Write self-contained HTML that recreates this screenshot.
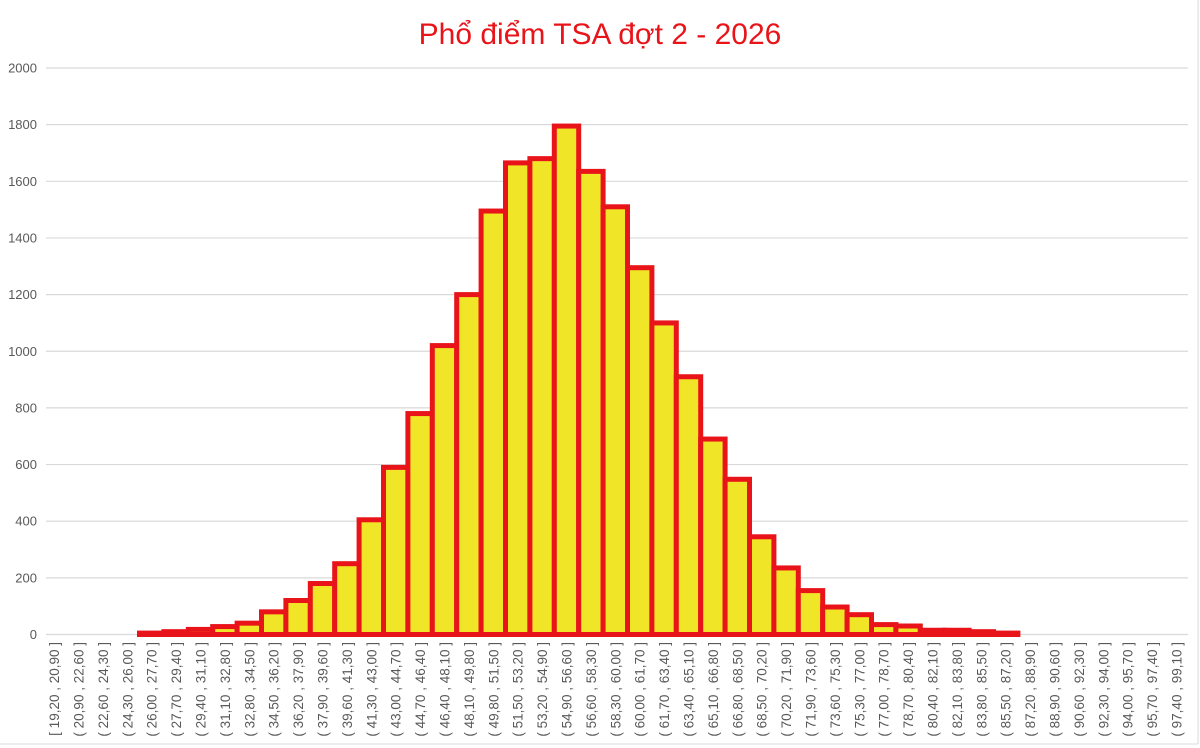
<!DOCTYPE html>
<html><head><meta charset="utf-8"><style>
html,body{margin:0;padding:0;background:#fff}
svg{display:block}
</style></head><body>
<svg width="1200" height="748" xmlns="http://www.w3.org/2000/svg" font-family="Liberation Sans, DejaVu Sans, sans-serif">
<rect x="0" y="0" width="1200" height="748" fill="#fff"/>
<line x1="0" y1="744" x2="1198" y2="744" stroke="#d9d9d9"/>
<line x1="1198" y1="0" x2="1198" y2="744" stroke="#d9d9d9"/>
<text x="600" y="44" text-anchor="middle" font-size="30" fill="#e8141a">Phổ điểm TSA đợt 2 - 2026</text>
<g id="grid" stroke="#d9d9d9" stroke-width="1.2"></g>
<g id="ylab" font-size="13" fill="#595959" text-anchor="end"></g>
<g id="bars" fill="#f0e526" stroke="#e8141a" stroke-width="5"></g>
<g id="xlab" font-size="13.5" fill="#595959"></g>
<script>
var NS="http://www.w3.org/2000/svg";
function el(t,a,p,txt){var e=document.createElementNS(NS,t);for(var k in a)e.setAttribute(k,a[k]);if(txt!=null)e.textContent=txt;document.getElementById(p).appendChild(e);return e;}
var y0=634.5,k=0.28325;
for(var v=0;v<=2000;v+=200){var y=y0-v*k;el('line',{x1:46,y1:y,x2:1188,y2:y},'grid');el('text',{x:37,y:y+4.5},'ylab',String(v));}
var vals={4:5,5:10,6:18,7:28,8:40,9:80,10:120,11:180,12:250,13:405,14:590,15:780,16:1020,17:1200,18:1495,19:1665,20:1680,21:1795,22:1635,23:1510,24:1295,25:1100,26:910,27:690,28:548,29:345,30:235,31:155,32:97,33:70,34:35,35:30,36:15,37:15,38:10,39:5};
function cx(i){return 566.5+(i-21)*24.4;}
for(var i in vals){i=+i;var h=vals[i]*k;el('rect',{x:cx(i)-12.2,y:y0-h,width:24.4,height:h},'bars');}
function f(n){return n.toFixed(2).replace('.',',');}
for(var i=0;i<47;i++){var a=19.2+i*1.7,b=a+1.7;var s=(i==0?'[ ':'( ')+f(a)+' ,  '+f(b)+' ]';
var x=cx(i)+5;el('text',{x:x,y:642,transform:'rotate(-90 '+x+' 642)','text-anchor':'end'},'xlab',s);}
</script>
</svg>
</body></html>
